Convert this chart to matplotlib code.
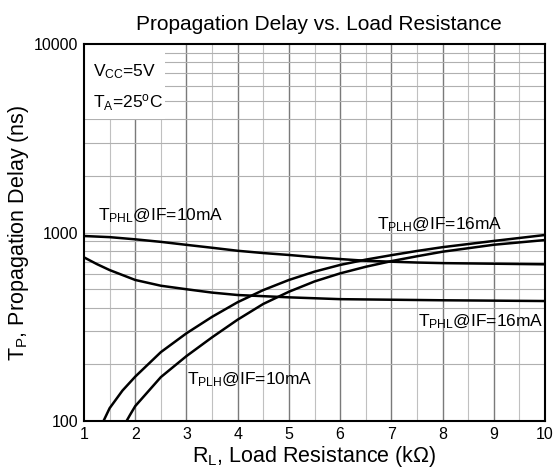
import matplotlib
matplotlib.use("Agg")
import matplotlib.pyplot as plt
from matplotlib.patches import Rectangle

plt.rcParams['font.family'] = ['Liberation Sans', 'DejaVu Sans']
plt.rcParams['mathtext.default'] = 'regular'

# Data
x_tphl_10 = [1, 1.5, 2, 2.5, 3, 3.5, 4, 4.5, 5, 5.5, 6, 6.5, 7, 7.5, 8, 9, 10]
y_tphl_10 = [958, 945, 920, 892, 860, 830, 800, 778, 760, 740, 723, 708, 700, 693, 688, 683, 678]

x_tphl_16 = [1, 1.25, 1.5, 2, 2.5, 3, 3.5, 4, 5, 6, 7, 8, 9, 10]
y_tphl_16 = [738, 680, 632, 560, 522, 500, 480, 466, 453, 443, 440, 437, 435, 433]

x_tplh_16 = [1.38, 1.5, 1.75, 2, 2.5, 3, 3.5, 4, 4.5, 5, 5.5, 6, 6.5, 7, 7.5, 8, 9, 10]
y_tplh_16 = [100, 117, 145, 172, 232, 292, 357, 427, 495, 560, 620, 673, 718, 758, 798, 836, 902, 970]

x_tplh_10 = [1.83, 1.9, 2, 2.5, 3, 3.5, 4, 4.5, 5, 5.5, 6, 6.5, 7, 7.5, 8, 9, 10]
y_tplh_10 = [100, 108, 120, 171, 221, 278, 345, 418, 485, 550, 607, 658, 705, 748, 791, 861, 912]

x_ticks = [1, 2, 3, 4, 5, 6, 7, 8, 9, 10]
y_ticks = [100, 1000, 10000]
y_tick_labels = ['100', '1000', '10000']

fig = plt.figure(figsize=(5.55, 4.76), dpi=100)
ax = fig.add_axes([0.1514, 0.1155, 0.8306, 0.7921])
ax.set_yscale('log')
ax.set_xlim(1, 10)
ax.set_ylim(100, 10000)

# grid
for i in range(1, 18):
    xv = 1 + 0.5 * i
    if i % 2 == 0:
        ax.axvline(xv, color='#7a7a7a', lw=1.0, zorder=1)
    else:
        ax.axvline(xv, color='#c0c0c0', lw=0.8, zorder=1)
for dec in [100, 1000]:
    for m in range(2, 10):
        ax.axhline(dec * m, color='#b0b0b0', lw=0.8, zorder=1)
ax.axhline(1000, color='#b0b0b0', lw=0.8, zorder=1)

# white box behind conditions
ax.add_patch(Rectangle((0, 0.80), 0.176, 0.20, transform=ax.transAxes,
                       facecolor='white', edgecolor='none', zorder=2))

lw = 1.8
ax.plot(x_tphl_10, y_tphl_10, color='black', lw=lw, zorder=3)
ax.plot(x_tphl_16, y_tphl_16, color='black', lw=lw, zorder=3)
ax.plot(x_tplh_16, y_tplh_16, color='black', lw=lw, zorder=3)
ax.plot(x_tplh_10, y_tplh_10, color='black', lw=lw, zorder=3)

ax.set_xticks(x_ticks)
ax.set_xticklabels([str(v) for v in x_ticks])
ax.set_yticks(y_ticks)
ax.set_yticklabels(y_tick_labels)
ax.yaxis.set_minor_locator(matplotlib.ticker.NullLocator())
ax.tick_params(axis='both', length=0, labelsize=11.5, pad=4)
for s in ax.spines.values():
    s.set_linewidth(1.5)
    s.set_zorder(4)

fs = 12.5
ax.text(1.17, 7100, '$V_{CC}$=5V', fontsize=fs, va='center', ha='left', zorder=5)
ax.text(1.17, 4900, '$T_A$=25$^o$C', fontsize=fs, va='center', ha='left', zorder=5)
ax.text(1.27, 1230, '$T_{PHL}$@IF=10mA', fontsize=fs, va='center', ha='left', zorder=5)
ax.text(6.72, 1100, '$T_{PLH}$@IF=16mA', fontsize=fs, va='center', ha='left', zorder=5)
ax.text(7.52, 335, '$T_{PHL}$@IF=16mA', fontsize=fs, va='center', ha='left', zorder=5)
ax.text(3.01, 165, '$T_{PLH}$@IF=10mA', fontsize=fs, va='center', ha='left', zorder=5)

ax.set_title('Propagation Delay vs. Load Resistance', fontsize=15, pad=10, x=0.51)
ax.set_xlabel('$R_L$, Load Resistance (kΩ)', fontsize=15.5, labelpad=2)
ax.set_ylabel('$T_P$, Propagation Delay (ns)', fontsize=15.5, labelpad=2)

fig.savefig('out.png', dpi=100)
